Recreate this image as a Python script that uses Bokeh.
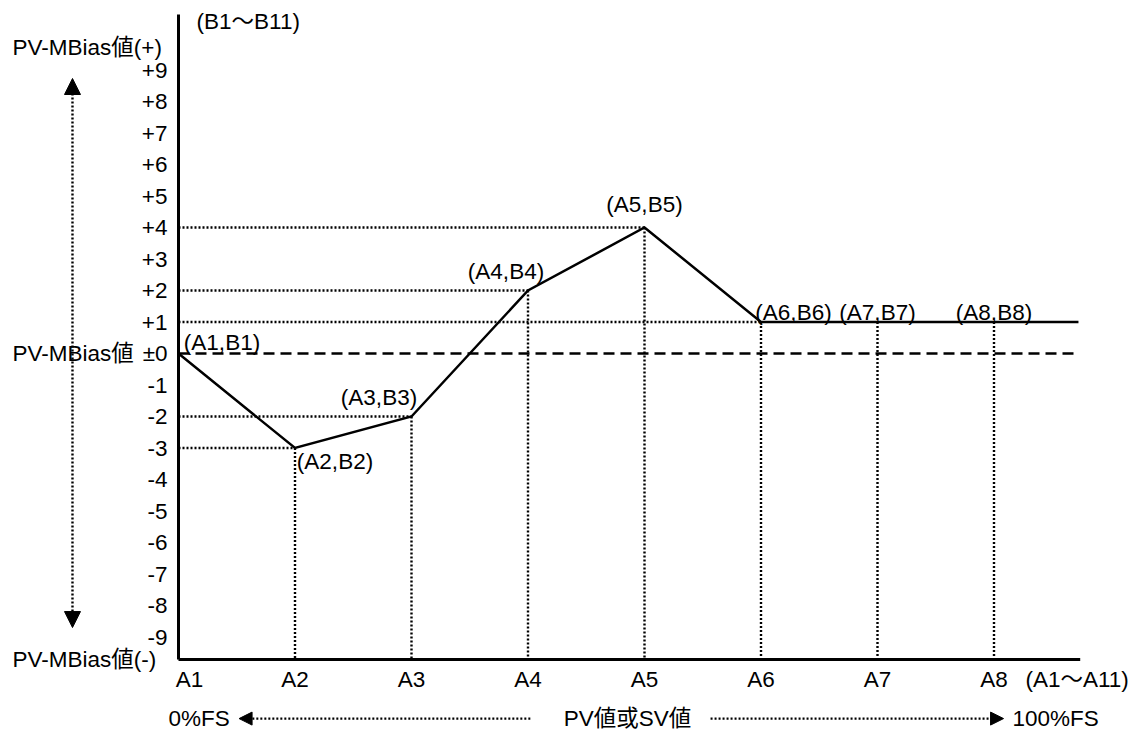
from bokeh.plotting import figure
from bokeh.models import Range1d, Arrow, NormalHead
from bokeh.core.properties import value
from bokeh.embed import file_html
from bokeh.resources import INLINE

# ---------------- data ----------------
categories = ["A1", "A2", "A3", "A4", "A5", "A6", "A7", "A8"]
cat_pos = [0, 1, 2, 3, 4, 5, 6, 7]
bias = [0, -3, -2, 2, 4, 1, 1, 1]
point_labels = ["(A1,B1)", "(A2,B2)", "(A3,B3)", "(A4,B4)",
                "(A5,B5)", "(A6,B6)", "(A7,B7)", "(A8,B8)"]
y_ticks = [9, 8, 7, 6, 5, 4, 3, 2, 1, 0, -1, -2, -3, -4, -5, -6, -7, -8, -9]
y_tick_labels = ["+9", "+8", "+7", "+6", "+5", "+4", "+3", "+2", "+1", "±0",
                 "-1", "-2", "-3", "-4", "-5", "-6", "-7", "-8", "-9"]

# ---------------- layout ----------------
W, H = 1134, 733
X_PX, Y_PX = 116.5, 31.5          # pixels per data unit
OX, OY = 178, 353                 # origin inside canvas
x0 = -OX / X_PX
y1 = OY / Y_PX
X_AX_Y = -9.714                   # level of the x axis
Y_AX_TOP = 10.76
X_END = 7.74
LINE_END = 7.725
BOT_Y = -11.59

FONT = value("'Liberation Sans', 'Noto Sans CJK JP', sans-serif")
FS = "22.5px"
DOT = value("2 6.5")
DOT_W = 2.4

p = figure(width=W, height=H, output_backend="svg", toolbar_location=None,
           x_range=Range1d(x0, x0 + W / X_PX), y_range=Range1d(y1 - H / Y_PX, y1),
           x_axis_type=None, y_axis_type=None, min_border=0,
           outline_line_color=None, background_fill_color="white",
           border_fill_color="white")
p.grid.visible = False

# dotted guide lines
hx0 = [0 for _ in cat_pos[1:6]]
p.segment(x0=hx0, y0=bias[1:6], x1=cat_pos[1:6], y1=bias[1:6],
          line_color="black", line_width=DOT_W, line_dash=DOT)
p.segment(x0=cat_pos[1:], y0=bias[1:], x1=cat_pos[1:], y1=[X_AX_Y] * 7,
          line_color="black", line_width=DOT_W, line_dash=DOT)

# zero dashed line
p.line(x=[0, LINE_END - 0.02], y=[0, 0], line_color="black", line_width=2.5,
       line_dash="11 6")

# axes
p.line(x=[0, 0], y=[X_AX_Y, Y_AX_TOP], line_color="black", line_width=3)
p.line(x=[0, X_END], y=[X_AX_Y, X_AX_Y], line_color="black", line_width=3)

# main polyline
p.line(x=cat_pos + [LINE_END], y=bias + [bias[-1]], line_color="black",
       line_width=2.5, line_join="miter")

# y tick labels
p.text(x=[0] * len(y_ticks), y=y_ticks, text=y_tick_labels, x_offset=-11,
       text_align="right", text_baseline="middle", text_font=FONT,
       text_font_size=FS, text_color="black")

# x tick labels
x_offs = [11, 0, 0, 0, 0, 0, 0, 0]
p.text(x=cat_pos, y=[-10.35] * 8, text=categories, x_offset=x_offs,
       text_align="center", text_baseline="middle", text_font=FONT,
       text_font_size=FS, text_color="black")

# point labels
lx = [43.5, 40, -32.5, -22, 0, 32.5, 0, 0]
ly = [-11, 13, -19, -19, -23, -10, -10, -10]
p.text(x=cat_pos, y=bias, text=point_labels, x_offset=lx, y_offset=ly,
       text_align="center", text_baseline="middle", text_font=FONT,
       text_font_size=FS, text_color="black")

# axis titles & side labels
p.text(x=[0.155], y=[10.54], text=["(B1～B11)"], text_align="left",
       text_baseline="middle", text_font=FONT, text_font_size=FS)
p.text(x=[7.27], y=[-10.35], text=["(A1～A11)"], text_align="left",
       text_baseline="middle", text_font=FONT, text_font_size=FS)
p.text(x=[-1.425, -1.425, -1.425], y=[9.714, 0, -9.714],
       text=["PV-MBias値(+)", "PV-MBias値", "PV-MBias値(-)"],
       text_align="left", text_baseline="middle", text_font=FONT,
       text_font_size=FS)
p.text(x=[-0.086, 7.159], y=[BOT_Y] * 2, text=["0%FS", "100%FS"],
       text_align="left", text_baseline="middle", text_font=FONT,
       text_font_size=FS)
p.text(x=[3.854], y=[BOT_Y], text=["PV値或SV値"],
       text_align="center", text_baseline="middle", text_font=FONT,
       text_font_size=FS)

# arrows
def head(s):
    return NormalHead(size=s, fill_color="black", line_color="black")

p.add_layout(Arrow(x_start=-0.91, y_start=-8.70, x_end=-0.91, y_end=8.73,
                   start=head(16), end=head(16),
                   line_color="black", line_width=DOT_W, line_dash=DOT))
p.add_layout(Arrow(x_start=3.02, y_start=BOT_Y, x_end=0.52, y_end=BOT_Y,
                   end=head(13), line_color="black", line_width=DOT_W, line_dash=DOT))
p.add_layout(Arrow(x_start=4.567, y_start=BOT_Y, x_end=7.082, y_end=BOT_Y,
                   end=head(13), line_color="black", line_width=DOT_W, line_dash=DOT))

open("out.html", "w").write(file_html(p, INLINE))
